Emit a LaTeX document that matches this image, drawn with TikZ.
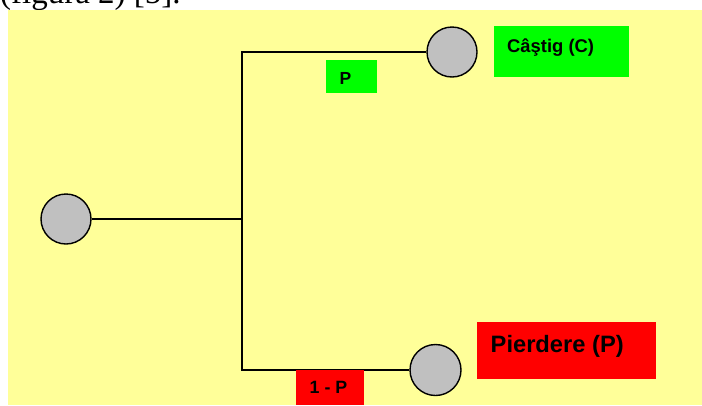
\documentclass[tikz,border=0pt]{standalone}
\usepackage{fontspec}
\setmainfont{Liberation Sans}
\newfontfamily\captionserif{Liberation Serif}
\definecolor{paneyellow}{HTML}{FFFF99}
\definecolor{chancegray}{HTML}{C0C0C0}
\definecolor{gaingreen}{HTML}{00FF00}
\definecolor{lossred}{HTML}{FF0000}
\tikzset{
  chance/.style={circle, draw=black, line width=1.4pt, fill=chancegray, minimum size=50pt, inner sep=0pt},
  branch/.style={draw=black, line width=1.3pt},
  tagbox/.style={draw=none, inner sep=0pt, anchor=north west},
  tagtext/.style={inner sep=0pt, anchor=base west, font=\bfseries},
}
\begin{document}
\begin{tikzpicture}[x=1pt, y=-1pt]
  \useasboundingbox (0,0) rectangle (702,405);
  % caption line running above the panel
  \node[inner sep=0pt, anchor=base west, font=\captionserif\fontsize{33}{33}\selectfont] (caption) at (0,3.5) {(figura 2) [5].};
  % panel
  \fill[paneyellow] (8,10) rectangle (702,405);

  % chance nodes
  \node[chance] (root) at (66,219) {};
  \node[chance] (win) at (452,52) {};
  \node[chance, minimum size=51pt] (lose) at (435.5,370) {};

  % branch points
  \coordinate (split) at (242,219);
  \coordinate (upper) at (242,52);
  \coordinate (lower) at (242,370);

  \draw[branch] (root) -- (split);
  \draw[branch, line cap=rect] (upper) -- (lower);
  \draw[branch] (upper) -- (win);
  \draw[branch] (lower) -- (lose);

  % probability tags
  \node[tagbox, fill=gaingreen, minimum width=51pt, minimum height=33pt] (pbox) at (326,60) {};
  \node[tagtext, font=\bfseries\fontsize{17.5}{17.5}\selectfont] (ptext) at (339.5,84) {P};

  \node[tagbox, fill=lossred, minimum width=68pt, minimum height=35pt] (qbox) at (296,370) {};
  \node[tagtext, font=\bfseries\fontsize{17.8}{17.8}\selectfont] (qtext) at (309.5,393.3) {1 - P};

  % outcome tags
  \node[tagbox, fill=gaingreen, minimum width=135pt, minimum height=51pt] (cbox) at (494,26) {};
  \node[tagtext, font=\bfseries\fontsize{18.4}{18.4}\selectfont] (ctext) at (507,52.5) {Câştig (C)};

  \node[tagbox, fill=lossred, minimum width=179pt, minimum height=57pt] (lbox) at (477,322) {};
  \node[tagtext, font=\bfseries\fontsize{23.7}{23.7}\selectfont] (ltext) at (490.5,352.5) {Pierdere (P)};
\end{tikzpicture}
\end{document}
